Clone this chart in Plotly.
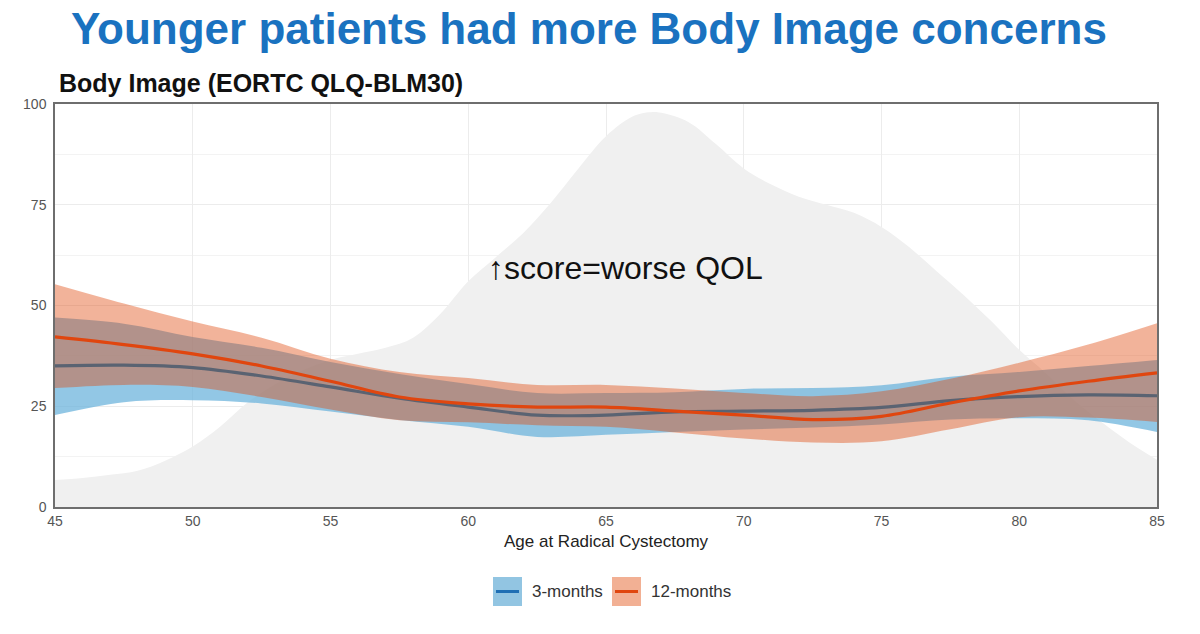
import plotly.graph_objects as go

# Age grid (years)
age = [45, 47.5, 50, 52.5, 55, 57.5, 60, 62.5, 65, 67.5, 70, 72.5, 75, 77.5, 80, 82.5, 85]

# 3-months smoothed score and CI
m3_fit = [35, 35.2, 34.6, 32.5, 29.8, 27, 24.8, 22.8, 22.8, 23.6, 23.8, 24, 24.7, 26.4, 27.4, 27.8, 27.6]
m3_hi = [47, 45.5, 42.2, 39.5, 36, 33, 30.5, 28.3, 28.3, 28.5, 29.3, 29.5, 30.2, 32.3, 33.5, 35, 36.5]
m3_lo = [22.8, 26, 26.5, 25.7, 23.7, 21.6, 19.9, 17.4, 17.9, 18.6, 19.2, 19.7, 20.5, 21.7, 22, 21.5, 18.6]

# 12-months smoothed score and CI
m12_fit = [42.2, 40.3, 38, 35, 31.2, 27.3, 25.6, 24.8, 24.8, 23.8, 22.8, 21.7, 22.5, 25.8, 28.8, 31.2, 33.3]
m12_hi = [55.3, 50.5, 46, 42, 36.8, 33.5, 32, 30.3, 30.3, 29.4, 28.3, 27.5, 28.7, 31.8, 35.8, 40.3, 45.6]
m12_lo = [29.5, 30.3, 29.8, 27.3, 24.2, 21.5, 21, 20.3, 19.9, 18.5, 17, 16, 16.3, 19.3, 22.3, 22.2, 21.1]

# Background age distribution (scaled density)
dens_age = [45, 46, 47, 48, 49, 50, 51, 52, 53, 54, 55, 56, 57, 58, 59, 60, 61, 62, 63, 64, 65, 66,
            66.7, 67, 68, 69, 70, 71, 72, 73, 74, 75, 76, 77, 78, 79, 80, 81, 82, 83, 84, 85]
dens_val = [6.7, 7.2, 8, 9, 11.5, 15, 20, 26, 30.5, 34, 36.5, 38, 39.5, 42, 48, 56, 62, 68, 75.5, 84, 92, 97,
            98, 97.8, 95.5, 90, 84, 80, 77, 75, 73, 69.5, 64.5, 58.5, 52.5, 46, 39, 33, 26.5, 21, 16, 11.7]

x_ticks = [45, 50, 55, 60, 65, 70, 75, 80, 85]
y_ticks = [0, 25, 50, 75, 100]

BLUE_FILL = "rgba(110,180,220,0.75)"
ORANGE_FILL = "rgba(225,75,15,0.42)"
FONT = "Liberation Sans, Arial, sans-serif"

fig = go.Figure()

fig.add_trace(go.Scatter(x=dens_age, y=dens_val, mode="lines", line=dict(width=0, shape="spline"),
                         fill="tozeroy", fillcolor="#f0f0f0", hoverinfo="skip", showlegend=False))

# 3-month ribbon
fig.add_trace(go.Scatter(x=age, y=m3_lo, mode="lines", line=dict(width=0, shape="spline"), showlegend=False))
fig.add_trace(go.Scatter(x=age, y=m3_hi, mode="lines", line=dict(width=0, shape="spline"),
                         fill="tonexty", fillcolor=BLUE_FILL, showlegend=False))
# 12-month ribbon
fig.add_trace(go.Scatter(x=age, y=m12_lo, mode="lines", line=dict(width=0, shape="spline"), showlegend=False))
fig.add_trace(go.Scatter(x=age, y=m12_hi, mode="lines", line=dict(width=0, shape="spline"),
                         fill="tonexty", fillcolor=ORANGE_FILL, showlegend=False))
# lines
fig.add_trace(go.Scatter(x=age, y=m3_fit, mode="lines", line=dict(color="#5a6372", width=3.2, shape="spline"),
                         showlegend=False))
fig.add_trace(go.Scatter(x=age, y=m12_fit, mode="lines", line=dict(color="#e0460f", width=3.2, shape="spline"),
                         showlegend=False))

fig.add_annotation(x=65.7, y=59.3, xref="x", yref="y", text="↑score=worse QOL", showarrow=False,
                   font=dict(family=FONT, size=32, color="#111111"))


def px2x(px):
    return (px - 55) / 1102


def py2y(py):
    return (507 - py) / 403


# Titles
fig.add_annotation(x=px2x(589), y=py2y(28), xref="paper", yref="paper",
                   text="<b>Younger patients had more Body Image concerns</b>",
                   showarrow=False, yanchor="middle", font=dict(family=FONT, size=44, color="#1a72c0"))
fig.add_annotation(xref="paper", yref="paper", x=px2x(57), y=py2y(83), text="<b>Body Image (EORTC QLQ-BLM30)</b>",
                   showarrow=False, xanchor="left", yanchor="middle",
                   font=dict(family=FONT, size=25, color="#111111"))

# Manual legend (ggplot-style keys)
legend_items = [("3-months", 493, "rgba(146,197,226,1)", "#1f6fb4"),
                ("12-months", 612, "rgba(242,176,148,1)", "#e0460f")]
shapes = []
for label, x0, fc, lc in legend_items:
    shapes.append(dict(type="rect", xref="paper", yref="paper", x0=px2x(x0), x1=px2x(x0 + 29),
                       y0=py2y(577), y1=py2y(606), fillcolor=fc, line=dict(width=0)))
    shapes.append(dict(type="line", xref="paper", yref="paper", x0=px2x(x0 + 3), x1=px2x(x0 + 26),
                       y0=py2y(591.5), y1=py2y(591.5), line=dict(color=lc, width=3)))
    fig.add_annotation(xref="paper", yref="paper", x=px2x(x0 + 37), y=py2y(591.5), text=label,
                       showarrow=False, xanchor="left", yanchor="middle",
                       font=dict(family=FONT, size=17, color="#333333"))

fig.add_annotation(xref="paper", yref="paper", x=px2x(606), y=py2y(541), text="Age at Radical Cystectomy",
                   showarrow=False, yanchor="middle", font=dict(family=FONT, size=17, color="#222222"))

fig.update_layout(
    width=1200, height=634,
    margin=dict(l=55, r=43, t=104, b=127),
    paper_bgcolor="white", plot_bgcolor="white",
    shapes=shapes,
    showlegend=False,
    font=dict(family=FONT),
)

fig.update_xaxes(range=[45, 85], tickvals=x_ticks, ticktext=[str(v) for v in x_ticks],
                 showgrid=True, gridcolor="#ececec", gridwidth=1,
                 showline=True, linecolor="#6e6e6e", linewidth=1.5, mirror=True,
                 ticks="", tickfont=dict(size=14, color="#555555"), zeroline=False)
fig.update_yaxes(range=[0, 100], tickvals=y_ticks, ticktext=[str(v) for v in y_ticks],
                 showgrid=True, gridcolor="#ececec", gridwidth=1,
                 minor=dict(dtick=12.5, tick0=0, showgrid=True, gridcolor="#f3f3f3", gridwidth=1),
                 showline=True, linecolor="#6e6e6e", linewidth=1.5, mirror=True,
                 ticks="", ticklabelstandoff=4,
                 tickfont=dict(size=14, color="#555555"), zeroline=False)

fig.write_html("out.html")
